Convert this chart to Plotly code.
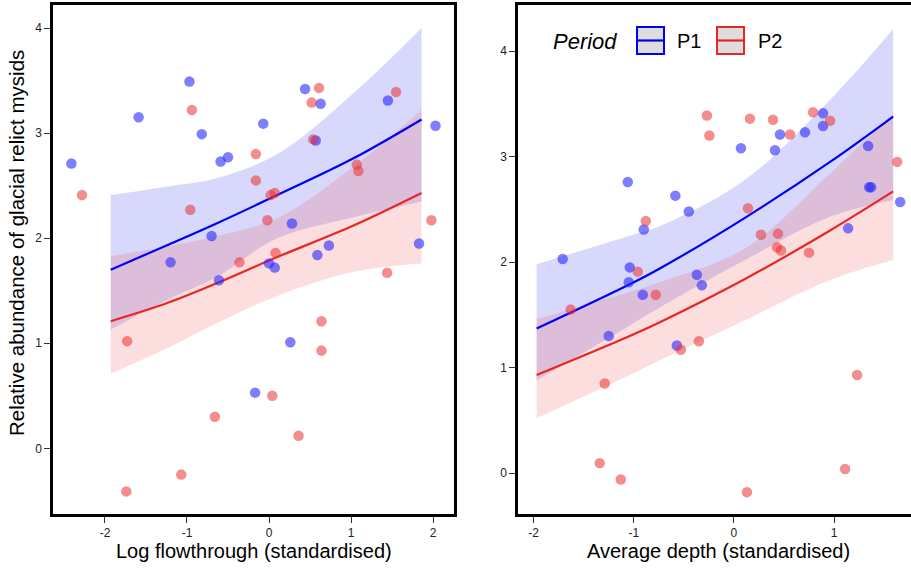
import plotly.graph_objects as go
from plotly.subplots import make_subplots

# ---------------- data ----------------
# Left panel: Log flowthrough (standardised)
flow_p1_x = [-2.41, -1.59, -0.97, -0.82, -0.59, -0.50, -0.70, -1.20, -0.61, -0.07, 0.44, 0.63,
             0.57, 0.28, 0.73, 0.59, 0.00, 0.07, 1.45, 2.03, 1.83, 0.26, -0.17]
flow_p1_y = [2.71, 3.15, 3.49, 2.99, 2.73, 2.77, 2.02, 1.77, 1.60, 3.09, 3.42, 3.28,
             2.93, 2.14, 1.93, 1.84, 1.76, 1.72, 3.31, 3.07, 1.95, 1.01, 0.53]
flow_p2_x = [-2.28, -0.94, -0.96, -0.16, -0.16, 0.02, 0.07, -0.02, 0.08, -0.36, 0.52, 0.61, 0.54,
             1.07, 1.09, 1.55, 1.98, 1.44, -1.73, 0.64, 0.64, 0.04, -0.66, 0.36, -1.07, -1.74]
flow_p2_y = [2.41, 3.22, 2.27, 2.80, 2.55, 2.41, 2.43, 2.17, 1.86, 1.77, 3.29, 3.43, 2.94,
             2.70, 2.64, 3.39, 2.17, 1.67, 1.02, 1.21, 0.93, 0.50, 0.30, 0.12, -0.25, -0.41]

flow_grid = [-1.93, -1.25, -0.64, 0.10, 1.03, 1.86]
flow_p1_fit = [1.70, 1.93, 2.14, 2.41, 2.76, 3.13]
flow_p1_lo = [1.13, 1.41, 1.63, 2.00, 2.20, 2.35]
flow_p1_hi = [2.41, 2.49, 2.57, 2.80, 3.38, 4.00]
flow_p2_fit = [1.21, 1.38, 1.57, 1.82, 2.12, 2.43]
flow_p2_lo = [0.71, 0.95, 1.19, 1.45, 1.68, 1.76]
flow_p2_hi = [1.83, 1.92, 2.02, 2.19, 2.68, 3.22]

# Right panel: Average depth (standardised)
depth_p1_x = [-1.71, -1.06, -1.04, -1.05, -0.90, -0.585, -0.45, -0.37, -0.32, 0.07, 0.41, 0.46,
              0.71, 0.89, 0.89, 1.34, 1.35, 1.37, 1.14, 1.66, -0.91, -1.25, -0.57]
depth_p1_y = [2.03, 2.76, 1.95, 1.81, 2.31, 2.63, 2.48, 1.88, 1.78, 3.08, 3.06, 3.21,
              3.23, 3.41, 3.29, 3.10, 2.71, 2.71, 2.32, 2.57, 1.69, 1.30, 1.21]
depth_p2_x = [-0.27, -0.245, 0.16, 0.39, 0.56, 0.79, 0.96, 1.63, -0.88, -0.96, 0.14, 0.27, 0.44,
              0.43, 0.47, 0.75, -1.63, -0.78, -0.53, -0.35, -1.29, 1.23, -1.34, -1.13, 0.13, 1.11]
depth_p2_y = [3.39, 3.20, 3.36, 3.35, 3.21, 3.42, 3.34, 2.95, 2.39, 1.91, 2.51, 2.26, 2.27,
              2.14, 2.11, 2.09, 1.55, 1.69, 1.17, 1.25, 0.85, 0.93, 0.095, -0.06, -0.18, 0.04]

depth_grid = [-1.97, -1.04, -0.74, 0.11, 0.96, 1.59]
depth_p1_fit = [1.37, 1.79, 1.94, 2.42, 2.95, 3.38]
depth_p1_lo = [0.88, 1.40, 1.57, 2.02, 2.43, 2.59]
depth_p1_hi = [1.98, 2.25, 2.34, 2.78, 3.54, 4.21]
depth_p2_fit = [0.93, 1.30, 1.43, 1.84, 2.30, 2.67]
depth_p2_lo = [0.52, 0.93, 1.07, 1.45, 1.83, 2.02]
depth_p2_hi = [1.46, 1.72, 1.81, 2.13, 2.84, 3.41]

x_ticks = [-2, -1, 0, 1, 2]
x_tick_labels = ["-2", "-1", "0", "1", "2"]
y_ticks = [0, 1, 2, 3, 4]
y_tick_labels = ["0", "1", "2", "3", "4"]

period_names = ["P1", "P2"]

# ---------------- styles ----------------
BLUE_LINE = "rgb(0,0,245)"
RED_LINE = "rgb(232,38,38)"
BLUE_PT = "rgba(40,40,255,0.6)"
RED_PT = "rgba(235,50,50,0.55)"
BLUE_BAND = "rgba(60,60,240,0.2)"
RED_BAND = "rgba(240,70,70,0.18)"
FONT = "Liberation Sans, Arial, sans-serif"

fig = make_subplots(rows=1, cols=2, horizontal_spacing=0.0)

def add_panel(col, grid, fits, los, his, pts):
    for fit, lo, hi, band in zip(fits, los, his, [BLUE_BAND, RED_BAND]):
        fig.add_trace(go.Scatter(x=grid, y=hi, mode="lines", line=dict(width=0, shape="spline"),
                                 hoverinfo="skip", showlegend=False), row=1, col=col)
        fig.add_trace(go.Scatter(x=grid, y=lo, mode="lines", line=dict(width=0, shape="spline"),
                                 fill="tonexty", fillcolor=band, hoverinfo="skip",
                                 showlegend=False), row=1, col=col)
    for fit, lc in zip(fits, [BLUE_LINE, RED_LINE]):
        fig.add_trace(go.Scatter(x=grid, y=fit, mode="lines",
                                 line=dict(color=lc, width=2.2, shape="spline"),
                                 showlegend=False), row=1, col=col)
    for (px, py), pc in zip(pts, [BLUE_PT, RED_PT]):
        fig.add_trace(go.Scatter(x=px, y=py, mode="markers",
                                 marker=dict(color=pc, size=10.5, line=dict(width=0)),
                                 showlegend=False), row=1, col=col)

add_panel(1, flow_grid, [flow_p1_fit, flow_p2_fit], [flow_p1_lo, flow_p2_lo],
          [flow_p1_hi, flow_p2_hi], [(flow_p1_x, flow_p1_y), (flow_p2_x, flow_p2_y)])
add_panel(2, depth_grid, [depth_p1_fit, depth_p2_fit], [depth_p1_lo, depth_p2_lo],
          [depth_p1_hi, depth_p2_hi], [(depth_p1_x, depth_p1_y), (depth_p2_x, depth_p2_y)])

W, H = 911, 569
ML, MR, MT, MB = 53, 0, 5, 55
PW = W - ML - MR
PH = H - MT - MB

def px2paper_x(px):
    return (px - ML) / PW

def px2paper_y(py):
    return (H - MB - py) / PH

axis_common = dict(showline=True, linecolor="black", linewidth=2.5, ticks="outside",
                   ticklen=6, tickwidth=1.2, tickcolor="#333", showgrid=False, zeroline=False,
                   tickfont=dict(family=FONT, size=12, color="#222"))

fig.update_xaxes(**axis_common, tickvals=x_ticks, ticktext=x_tick_labels)
fig.update_yaxes(**axis_common, tickvals=y_ticks, ticktext=y_tick_labels)

fig.update_layout(
    xaxis=dict(domain=[0, px2paper_x(454)], range=[-2.634, 2.256], mirror=True),
    yaxis=dict(range=[-0.625, 4.219], mirror=True),
    xaxis2=dict(domain=[px2paper_x(518), 1.0], range=[-2.156, 1.768], mirror=True),
    yaxis2=dict(range=[-0.387, 4.437], mirror=False),
)

annotations = [
    dict(text="Log flowthrough (standardised)", x=px2paper_x(253.5), y=px2paper_y(551),
         xref="paper", yref="paper", showarrow=False, xanchor="center", yanchor="middle",
         font=dict(family=FONT, size=20, color="black")),
    dict(text="Average depth (standardised)", x=px2paper_x(718), y=px2paper_y(551),
         xref="paper", yref="paper", showarrow=False, xanchor="center", yanchor="middle",
         font=dict(family=FONT, size=20, color="black")),
    dict(text="Relative abundance of glacial relict mysids", x=px2paper_x(17),
         y=px2paper_y(243), xref="paper", yref="paper", showarrow=False, textangle=-90,
         xanchor="center", yanchor="middle", font=dict(family=FONT, size=20.5, color="black")),
    dict(text="<i>Period</i>", x=px2paper_x(551), y=px2paper_y(41), xref="paper", yref="paper",
         showarrow=False, xanchor="left", yanchor="middle",
         font=dict(family=FONT, size=22, color="black")),
]

shapes = []
legend_boxes = [(637, 664, BLUE_LINE, 675), (717, 744, RED_LINE, 756)]
for (bx0, bx1, col, tx), name in zip(legend_boxes, period_names):
    shapes.append(dict(type="rect", xref="paper", yref="paper",
                       x0=px2paper_x(bx0), x1=px2paper_x(bx1),
                       y0=px2paper_y(54), y1=px2paper_y(27),
                       fillcolor="#dddddd", line=dict(color=col, width=2)))
    shapes.append(dict(type="line", xref="paper", yref="paper",
                       x0=px2paper_x(bx0), x1=px2paper_x(bx1),
                       y0=px2paper_y(40.5), y1=px2paper_y(40.5),
                       line=dict(color=col, width=2.2)))
    annotations.append(dict(text=name, x=px2paper_x(tx), y=px2paper_y(41), xref="paper",
                            yref="paper", showarrow=False, xanchor="left", yanchor="middle",
                            font=dict(family=FONT, size=20, color="black")))

fig.update_layout(
    width=W, height=H,
    margin=dict(l=ML, r=MR, t=MT, b=MB),
    plot_bgcolor="white", paper_bgcolor="white",
    showlegend=False,
    annotations=annotations,
    shapes=shapes,
    font=dict(family=FONT),
)

fig.write_html("out.html", config={"displayModeBar": False},
               post_script="document.body.style.margin='0px';")
